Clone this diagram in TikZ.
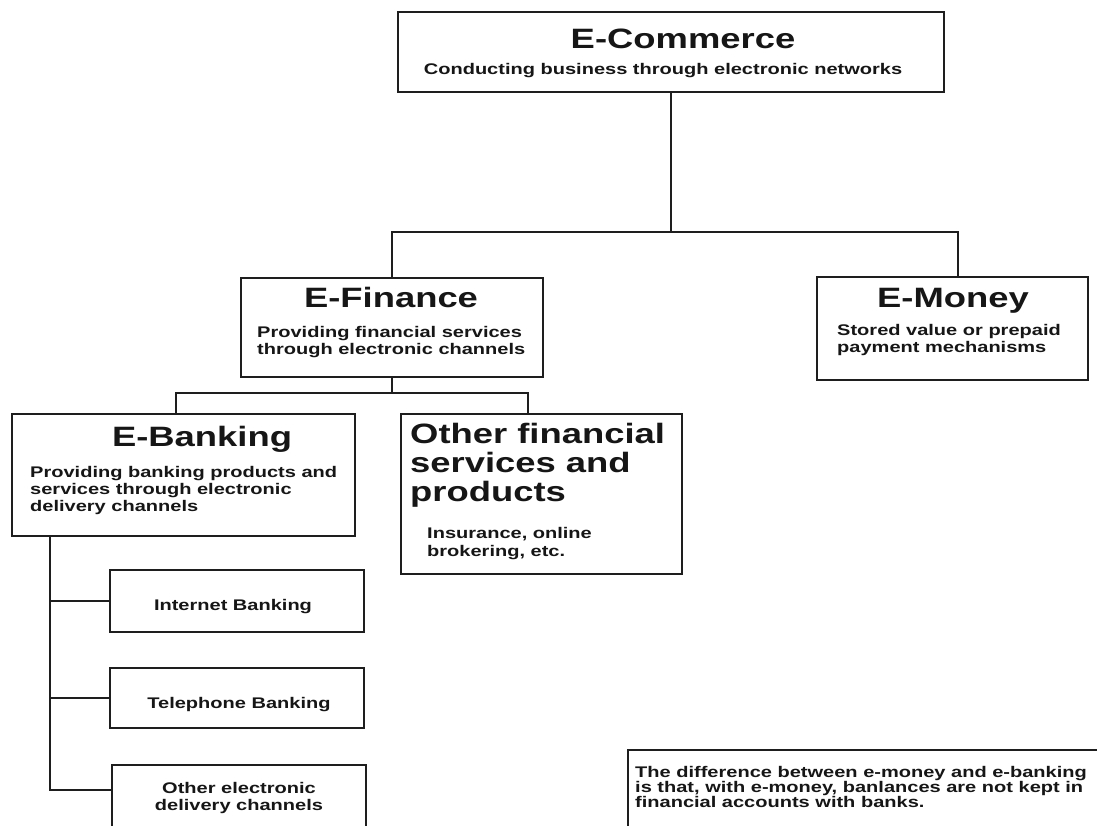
\documentclass[tikz,border=0pt]{standalone}
\usepackage{fontspec}
\setmainfont{Liberation Sans}[FakeStretch=1.3]
\definecolor{linec}{HTML}{1E1E1E}
\definecolor{txt}{HTML}{161616}
\begin{document}
\begin{tikzpicture}[x=1pt,y=-1pt,
  box/.style={draw=linec, line width=2pt, rectangle, inner sep=0pt, fill=white},
  conn/.style={draw=linec, line width=2pt},
  title/.style={font=\fontsize{28}{29}\selectfont\bfseries, text=txt, inner sep=0pt, align=left},
  sub/.style={font=\fontsize{15.4}{16.8}\selectfont\bfseries, text=txt, inner sep=0pt, align=left},
  note/.style={font=\fontsize{15.4}{14.6}\selectfont\bfseries, text=txt, inner sep=0pt, align=left}]
\useasboundingbox (0,0) rectangle (1097,825);
\fill[white] (0,0) rectangle (1097,825);
\clip (0,0) rectangle (1097,825);

% boxes
\node[box, minimum width=546pt, minimum height=80pt] (ecom) at (671,52) {};
\node[box, minimum width=302pt, minimum height=99pt] (efin) at (392,327.5) {};
\node[box, minimum width=271pt, minimum height=103pt] (emon) at (952.5,328.5) {};
\node[box, minimum width=343pt, minimum height=122pt] (ebank) at (183.5,475) {};
\node[box, minimum width=281pt, minimum height=160pt] (ofin) at (541.5,494) {};
\node[box, minimum width=254pt, minimum height=62pt] (inet) at (237,601) {};
\node[box, minimum width=254pt, minimum height=60pt] (tel) at (237,698) {};
\node[box, minimum width=254pt, minimum height=80pt] (oelec) at (239,805) {};
\node[box, minimum width=490pt, minimum height=110pt] (notebox) at (873,805) {};

% connectors
\coordinate (j1) at (671,232);
\draw[conn] (ecom.south) -- (j1);
\draw[conn] (efin.north) |- (j1) -| ([xshift=5.5pt]emon.north);
\coordinate (j2) at (392,393);
\draw[conn] (efin.south) -- (j2);
\draw[conn] ([xshift=-7.5pt]ebank.north) |- (j2) -| ([xshift=-13.5pt]ofin.north);
\coordinate (s0) at ([xshift=39pt]ebank.south west);
\draw[conn] (s0) |- ([yshift=15pt]oelec.west);
\draw[conn] (inet.west) -- (inet.west -| s0);
\draw[conn] (tel.west) -- (tel.west -| s0);

% texts (base anchor of a multi-line node = baseline of its last line)
\node[title, anchor=base] (tEcom) at (683,48) {E-Commerce};
\node[sub, anchor=base] (sEcom) at (663,74) {Conducting business through electronic networks};
\node[title, anchor=base] (tEfin) at (391,307) {E-Finance};
\node[sub, anchor=base west] (sEfin) at (257,354) {Providing financial services\\through electronic channels};
\node[title, anchor=base] (tEmon) at (953,307) {E-Money};
\node[sub, anchor=base west] (sEmon) at (837,352) {Stored value or prepaid\\payment mechanisms};
\node[title, anchor=base] (tEbank) at (202,446) {E-Banking};
\node[sub, anchor=base west] (sEbank) at (30,511) {Providing banking products and\\services through electronic\\delivery channels};
\node[title, anchor=base west] (tOfin) at (410,501) {Other financial\\services and\\products};
\node[sub, anchor=base west, font=\fontsize{15.4}{18}\selectfont\bfseries] (sOfin) at (427,556) {Insurance, online\\brokering, etc.};
\node[sub, anchor=base] (tInet) at (233,610) {Internet Banking};
\node[sub, anchor=base] (tTel) at (239,708) {Telephone Banking};
\node[sub, anchor=base, align=center] (tOelec) at (239,810) {Other electronic\\delivery channels};
\node[note, anchor=base west] (tNote) at (635,807) {The difference between e-money and e-banking\\is that, with e-money, banlances are not kept in\\financial accounts with banks.};
\end{tikzpicture}
\end{document}
